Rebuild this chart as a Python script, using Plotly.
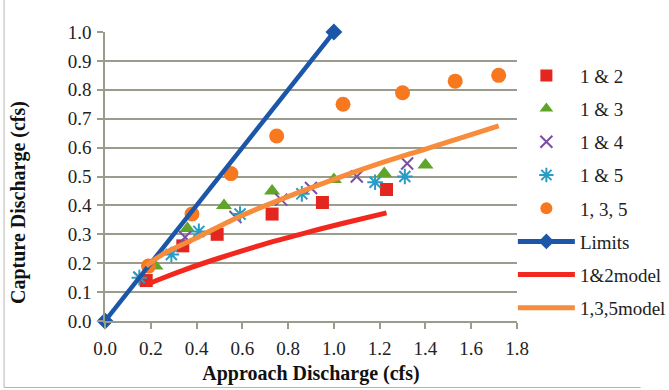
import plotly.graph_objects as go

# Measured capture vs. approach discharge for each inlet combination
x_12 = [0.18, 0.34, 0.49, 0.73, 0.95, 1.23]
y_12 = [0.14, 0.26, 0.30, 0.37, 0.41, 0.455]

x_13 = [0.22, 0.36, 0.52, 0.73, 1.00, 1.22, 1.40]
y_13 = [0.19, 0.32, 0.40, 0.45, 0.49, 0.51, 0.54]

x_14 = [0.15, 0.35, 0.57, 0.77, 0.90, 1.10, 1.32]
y_14 = [0.15, 0.29, 0.36, 0.42, 0.46, 0.50, 0.545]

x_15 = [0.15, 0.29, 0.41, 0.59, 0.86, 1.18, 1.31]
y_15 = [0.15, 0.23, 0.31, 0.37, 0.44, 0.48, 0.50]

x_135 = [0.19, 0.38, 0.55, 0.75, 1.04, 1.30, 1.53, 1.72]
y_135 = [0.19, 0.37, 0.51, 0.64, 0.75, 0.79, 0.83, 0.85]

# 1:1 limit line
x_lim = [0.0, 1.0]
y_lim = [0.0, 1.0]

# Fitted model curves
x_m12 = [0.18, 0.25, 0.35, 0.50, 0.70, 0.90, 1.05, 1.23]
y_m12 = [0.125, 0.148, 0.178, 0.218, 0.267, 0.31, 0.34, 0.374]

x_m135 = [0.18, 0.25, 0.38, 0.57, 0.75, 1.00, 1.20, 1.40, 1.60, 1.72]
y_m135 = [0.19, 0.23, 0.28, 0.355, 0.415, 0.49, 0.545, 0.595, 0.645, 0.675]

x_ticks = [0.0, 0.2, 0.4, 0.6, 0.8, 1.0, 1.2, 1.4, 1.6, 1.8]
y_ticks = [0.0, 0.1, 0.2, 0.3, 0.4, 0.5, 0.6, 0.7, 0.8, 0.9, 1.0]

SERIF = "Liberation Serif, Times New Roman, serif"

fig = go.Figure()


def add(name, xs, ys, mode, marker=None, line=None):
    fig.add_trace(go.Scatter(
        x=xs, y=ys, name=name, mode=mode, legendgroup=name,
        marker=marker, line=line, cliponaxis=False,
    ))


add("1 & 2", x_12, y_12, "markers",
    marker=dict(symbol="square", size=13, color="#e3261f"))
add("1 & 3", x_13, y_13, "markers",
    marker=dict(symbol="triangle-up", size=14, color="#5fa52a"))
add("1 & 4", x_14, y_14, "markers",
    marker=dict(symbol="x-thin-open", size=12, color="#7b4ea3",
                line=dict(width=2, color="#7b4ea3")))
add("1 & 5", x_15, y_15, "markers",
    marker=dict(symbol="asterisk-open", size=13, color="#2a9cc4",
                line=dict(width=2, color="#2a9cc4")))
add("1, 3, 5", x_135, y_135, "markers",
    marker=dict(symbol="circle", size=15, color="#f7781e"))
add("Limits", x_lim, y_lim, "lines+markers",
    marker=dict(symbol="diamond", size=13, color="#1c56a8"),
    line=dict(width=4.5, color="#1c56a8"))
add("1&2model", x_m12, y_m12, "lines",
    line=dict(width=5, color="#f2281f", shape="spline"))
add("1,3,5model", x_m135, y_m135, "lines",
    line=dict(width=5, color="#f78d3c", shape="spline"))

grid = "#9a9c8c"
fig.update_xaxes(
    range=[0, 1.8], tickvals=x_ticks, ticktext=[f"{v:.1f}" for v in x_ticks],
    showgrid=False, zeroline=False, showline=True, linecolor=grid, linewidth=1.5,
    ticks="outside", ticklen=6, tickcolor=grid, tickwidth=1.5,
    ticklabelstandoff=3,
    tickfont=dict(family=SERIF, size=19, color="#222"),
    title=dict(text="<b>Approach Discharge (cfs)</b>", standoff=8,
               font=dict(family=SERIF, size=20, color="#111")),
)
fig.update_yaxes(
    range=[0, 1.0], tickvals=y_ticks, ticktext=[f"{v:.1f}" for v in y_ticks],
    showgrid=True, gridcolor=grid, gridwidth=1.5,
    zeroline=False, showline=True, linecolor=grid, linewidth=1.5,
    ticks="outside", ticklen=6, tickcolor=grid, tickwidth=1.5,
    ticklabelstandoff=2,
    tickfont=dict(family=SERIF, size=19, color="#222"),
)

fig.update_layout(
    width=669, height=390,
    margin=dict(l=105, r=152, t=32, b=69, autoexpand=False),
    paper_bgcolor="white", plot_bgcolor="white",
    showlegend=True,
    legend=dict(
        x=0.99, xanchor="left", y=0.915, yanchor="top",
        font=dict(family=SERIF, size=19, color="#222"),
        itemwidth=57, tracegroupgap=5.5, bgcolor="rgba(0,0,0,0)",
        itemsizing="constant",
    ),
    annotations=[
        dict(text="<b>Capture Discharge (cfs)</b>", textangle=-90,
             xref="paper", yref="paper", x=-0.21, y=0.41,
             xanchor="center", yanchor="middle", showarrow=False,
             font=dict(family=SERIF, size=20, color="#111")),
    ],
    shapes=[
        dict(type="line", xref="paper", yref="paper",
             x0=-0.245, x1=-0.245, y0=-0.23, y1=1.12,
             line=dict(color="#b5b5b0", width=1)),
        dict(type="line", xref="paper", yref="paper",
             x0=-0.245, x1=1.3, y0=-0.23, y1=-0.23,
             line=dict(color="#b5b5b0", width=1)),
    ],
)

fig.write_html("out.html")
